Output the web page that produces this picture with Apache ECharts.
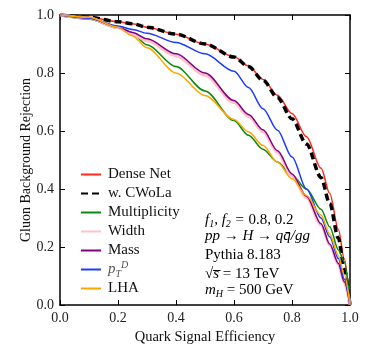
<!DOCTYPE html>
<html>
<head>
<meta charset="utf-8">
<script src="https://cdn.jsdelivr.net/npm/echarts@6/dist/echarts.min.js"></script>
<style>
	html, body { margin: 0; padding: 0; background: #fff; }
	#roc { width: 375px; height: 351px; }
</style>
</head>
<body>
<div id="roc"></div>
<script>
// quark efficiency (x) and gluon rejection (y)
var effX = [0, 0.1, 0.2, 0.25, 0.3, 0.4, 0.5, 0.6, 0.65, 0.7, 0.75, 0.8, 0.85, 0.9, 0.93, 0.96, 0.98, 1.0];
var denseNet = [1.0, 0.992, 0.977, 0.970, 0.958, 0.934, 0.900, 0.856, 0.824, 0.778, 0.723, 0.660, 0.580, 0.472, 0.385, 0.260, 0.160, 0.0];
var cwola = [1.0, 0.992, 0.977, 0.970, 0.958, 0.934, 0.900, 0.855, 0.822, 0.775, 0.715, 0.642, 0.555, 0.440, 0.350, 0.230, 0.125, 0.0];
var multiplicity = [1.0, 0.985, 0.955, 0.935, 0.897, 0.822, 0.738, 0.636, 0.585, 0.537, 0.493, 0.447, 0.400, 0.330, 0.270, 0.190, 0.150, 0.0];
var widthVar = [1.0, 0.990, 0.956, 0.934, 0.911, 0.859, 0.792, 0.698, 0.650, 0.597, 0.526, 0.446, 0.370, 0.276, 0.207, 0.140, 0.078, 0.0];
var mass = [1.0, 0.990, 0.958, 0.940, 0.918, 0.866, 0.800, 0.705, 0.657, 0.604, 0.532, 0.452, 0.375, 0.280, 0.210, 0.143, 0.080, 0.0];
var ptd = [1.0, 0.990, 0.962, 0.950, 0.937, 0.905, 0.866, 0.806, 0.750, 0.677, 0.603, 0.510, 0.400, 0.300, 0.235, 0.160, 0.090, 0.0];
var lha = [1.0, 0.992, 0.958, 0.928, 0.887, 0.800, 0.722, 0.640, 0.597, 0.550, 0.492, 0.435, 0.378, 0.310, 0.245, 0.170, 0.105, 0.0];
var tickVals = [0, 0.2, 0.4, 0.6, 0.8, 1.0];

var serif = 'Liberation Serif';

function pairs(ys) {
	return effX.map(function(x, i) {
		return [x, ys[i]];
	});
}

function curve(name, ys, color, w, dash) {
	return {
		name: name,
		type: 'line',
		data: pairs(ys),
		symbol: 'none',
		smooth: 0.3,
		smoothMonotone: 'x',
		animation: false,
		lineStyle: {
			color: color,
			width: w,
			type: dash || 'solid'
		},
		itemStyle: {
			color: color
		}
	};
}

var axisBase = {
	type: 'value',
	min: tickVals[0],
	max: tickVals[tickVals.length - 1],
	interval: 0.2,
	splitLine: { show: false },
	axisLine: { show: true, onZero: false, lineStyle: { color: '#000', width: 1.5 } },
	axisTick: { show: true, inside: true, length: 5, lineStyle: { color: '#000', width: 1 } }
};

function ax(extra) {
	return Object.assign({}, axisBase, extra);
}

var labelStyle = {
	color: '#222',
	fontFamily: serif,
	fontSize: 14,
	formatter: function(v) { return v.toFixed(1); }
};

var mathRich = {
	n: { fontFamily: serif, fontSize: 15, color: '#222', lineHeight: 18 },
	i: { fontFamily: serif, fontSize: 15, fontStyle: 'italic', color: '#555', lineHeight: 18 },
	sub: { fontFamily: serif, fontSize: 10, fontStyle: 'italic', color: '#555', lineHeight: 9, verticalAlign: 'bottom' },
	sup: { fontFamily: serif, fontSize: 10, fontStyle: 'italic', color: '#555', lineHeight: 9, verticalAlign: 'top' }
};

function note(top, text) {
	return {
		type: 'text',
		left: 205,
		top: top,
		style: {
			text: text,
			rich: mathRich
		}
	};
}

var chart = echarts.init(document.getElementById('roc'));
chart.setOption({
	backgroundColor: '#fff',
	grid: {
		left: 60,
		right: 25,
		top: 15,
		bottom: 46
	},
	xAxis: [
		ax({
			position: 'bottom',
			name: 'Quark Signal Efficiency',
			nameLocation: 'middle',
			nameGap: 25,
			nameMoveOverlap: false,
			nameTextStyle: { color: '#111', fontFamily: serif, fontSize: 14.5 },
			axisLabel: Object.assign({ margin: 6 }, labelStyle)
		}),
		ax({
			position: 'top',
			axisLabel: { show: false }
		})
	],
	yAxis: [
		ax({
			position: 'left',
			name: 'Gluon Background Rejection',
			nameLocation: 'middle',
			nameGap: 27,
			nameMoveOverlap: false,
			nameTextStyle: { color: '#111', fontFamily: serif, fontSize: 14 },
			axisLabel: Object.assign({ margin: 6 }, labelStyle)
		}),
		ax({
			position: 'right',
			axisLabel: { show: false }
		})
	],
	legend: {
		orient: 'vertical',
		left: 75,
		top: 160,
		itemWidth: 20,
		itemHeight: 14,
		itemGap: 0,
		itemStyle: { opacity: 0 },
		textStyle: {
			color: '#111',
			fontFamily: serif,
			fontSize: 15,
			lineHeight: 19,
			padding: [0, 0, 0, 2],
			rich: {
				i: { fontFamily: serif, fontSize: 15, fontStyle: 'italic', color: '#555', lineHeight: 19 },
				sub: { fontFamily: serif, fontSize: 10, fontStyle: 'italic', color: '#555', lineHeight: 9, verticalAlign: 'bottom' },
				sup: { fontFamily: serif, fontSize: 10, fontStyle: 'italic', color: '#555', lineHeight: 9, verticalAlign: 'top' }
			}
		},
		formatter: function(name) {
			if (name === 'pTD') return '{i|p}{sub|T}{sup|D}';
			return name;
		},
		data: ['Dense Net', 'w. CWoLa', 'Multiplicity', 'Width', 'Mass', 'pTD', 'LHA']
	},
	graphic: [
		note(213, '{i|f}{sub|1}{i|, f}{sub|2}{i| = }{n|0.8, 0.2}'),
		note(229, '{i|pp → H → qq̄/gg}'),
		note(248, '{n|Pythia 8.183}'),
		note(267, '{n|√}{i|s̅}{n| = 13 TeV}'),
		note(283, '{i|m}{sub|H}{n| = 500 GeV}')
	],
	series: [
		curve('Dense Net', denseNet, '#ff2a1a', 1.5),
		curve('w. CWoLa', cwola, '#000', 3.5, [7, 4]),
		curve('Multiplicity', multiplicity, '#0a8a0a', 1.5),
		curve('Width', widthVar, '#ffc0cb', 3),
		curve('Mass', mass, '#800080', 1.5),
		curve('pTD', ptd, '#1a3cff', 1.5),
		curve('LHA', lha, '#ffa500', 1.5)
	]
});
</script>
</body>
</html>
